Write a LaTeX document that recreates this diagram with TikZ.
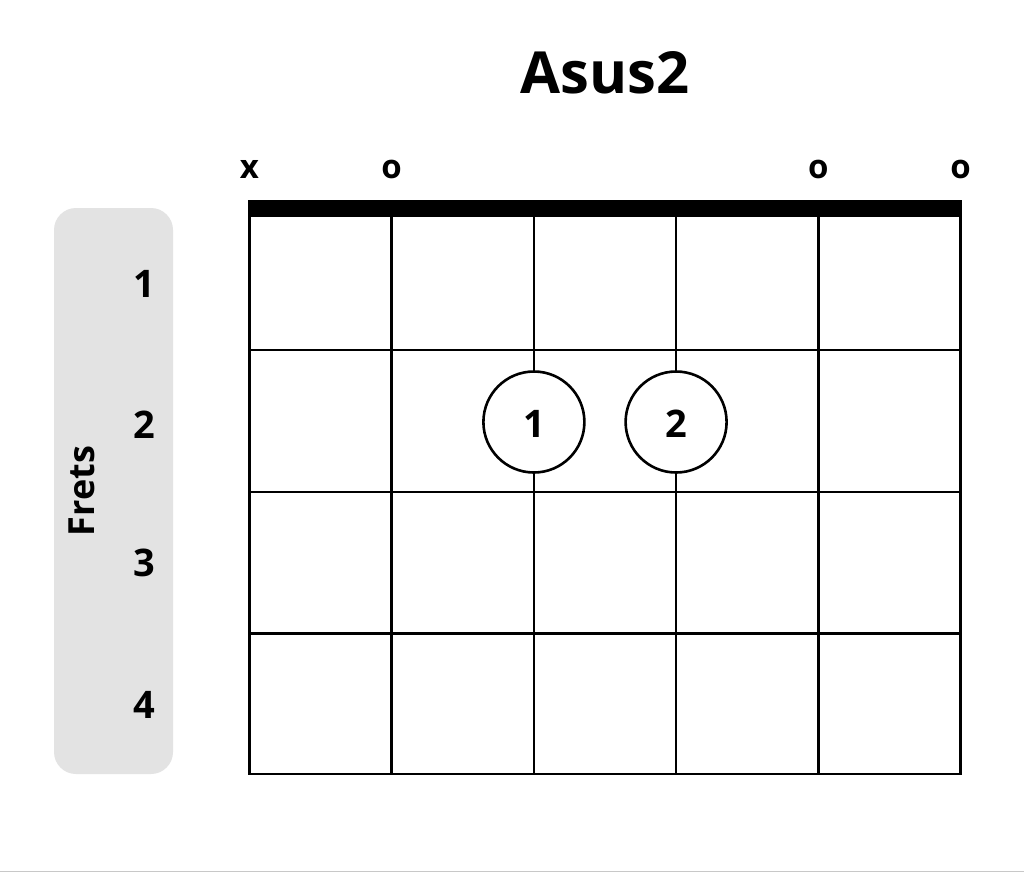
\documentclass[tikz,border=0pt]{standalone}
\usepackage{fontspec}
\setmainfont{Open Sans}
\definecolor{panelgray}{HTML}{E3E3E3}
\definecolor{edgegray}{HTML}{C8C8C8}
\tikzset{
  gridline/.style={line width=2.6pt, black},
  nutbar/.style={line width=17pt, black},
  fingerdot/.style={circle, draw=black, line width=2.6pt, fill=white, minimum size=101pt, inner sep=0pt, font=\fontsize{38}{42}\selectfont\bfseries},
  openmark/.style={font=\fontsize{33}{36}\selectfont\bfseries, anchor=base},
  fretnum/.style={font=\fontsize{38}{42}\selectfont\bfseries},
  titletext/.style={font=\fontsize{58}{64}\selectfont\bfseries},
  panel/.style={fill=panelgray, rounded corners=22pt, draw=none}
}
\begin{document}
\begin{tikzpicture}[x=1pt,y=-1pt]
\useasboundingbox (0,0) rectangle (1024,873);
\fill[white] (0,0) rectangle (1024,873);
\draw[edgegray, line width=1pt] (0,871.5) -- (1024,871.5);
% title
\node[titletext] (title) at (605,73) {Asus2};
% side panel
\node[panel, minimum width=119pt, minimum height=566pt, inner sep=0pt] (panelbox) at (113.5,491) {};
\node[rotate=90, font=\fontsize{36}{40}\selectfont\bfseries] (frets) at (82,491) {Frets};
\node[fretnum] (f1) at (144,284) {1};
\node[fretnum] (f2) at (144,425) {2};
\node[fretnum] (f3) at (144,563) {3};
\node[fretnum] (f4) at (144,705) {4};
% grid
\foreach \i/\xx in {0/249.5,1/391.7,2/533.9,3/676.1,4/818.3,5/960.5}{
  \draw[gridline] (\xx,208) -- (\xx,775);
}
\foreach \yy in {350,492,633.5,774}{
  \draw[gridline] (248.2,\yy) -- (961.8,\yy);
}
\draw[nutbar] (248.2,208.5) -- (961.8,208.5);
% open / muted marks
\node[openmark] (m1) at (249.5,178) {x};
\node[openmark] (m2) at (391.7,178) {o};
\node[openmark] (m5) at (818.3,178) {o};
\node[openmark] (m6) at (960.5,178) {o};
% finger dots
\node[fingerdot] (d1) at (533.9,422) {};
\node[fingerdot] (d2) at (676.1,422) {};
\node[font=\fontsize{38}{42}\selectfont\bfseries] (n1) at (533.9,424) {1};
\node[font=\fontsize{38}{42}\selectfont\bfseries] (n2) at (676.1,424) {2};
\end{tikzpicture}
\end{document}
